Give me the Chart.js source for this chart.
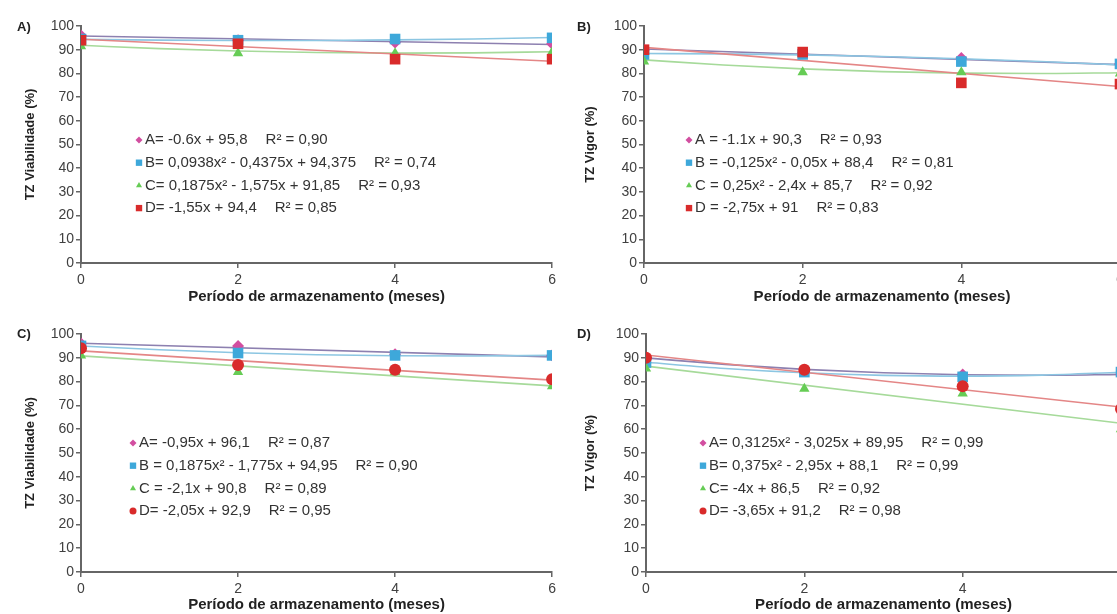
<!DOCTYPE html>
<html>
<head>
<meta charset="utf-8">
<script src="https://cdn.jsdelivr.net/npm/chart.js@4.4.1/dist/chart.umd.min.js"></script>
<style>
  html, body { margin: 0; padding: 0; background: #fff; overflow: hidden; width: 1117px; height: 614px; }
  canvas { position: absolute; }
</style>
</head>
<body>
<canvas id="panelA" width="560" height="307" style="left:0;top:0"></canvas>
<canvas id="panelB" width="580" height="307" style="left:560px;top:0"></canvas>
<canvas id="panelC" width="560" height="307" style="left:0;top:307px"></canvas>
<canvas id="panelD" width="580" height="307" style="left:560px;top:307px"></canvas>
<script>
// meses de armazenamento
const meses = [0, 2, 4, 6];
const xLinear = [0, 6];
const xQuad = [0, 1, 2, 3, 4, 5, 6];

// A) TZ Viabilidade - primeiro lote
const a_serieA = [96, 94, 93, 92.5];
const a_serieB = [94.5, 94, 94.5, 95];
const a_serieC = [91.5, 88.5, 88.5, 89];
const a_serieD = [94, 92.5, 86, 86];
const a_trendA = [95.8, 92.2];
const a_trendB = [94.38, 94.03, 93.88, 93.91, 94.13, 94.53, 95.13];
const a_trendC = [91.85, 90.46, 89.45, 88.81, 88.55, 88.66, 89.15];
const a_trendD = [94.4, 85.1];
const a_eq = ["A= -0.6x + 95,8", "B= 0,0938x² - 0,4375x + 94,375", "C= 0,1875x² - 1,575x + 91,85", "D= -1,55x + 94,4"];
const a_r2 = ["R² = 0,90", "R² = 0,74", "R² = 0,93", "R² = 0,85"];

// B) TZ Vigor - primeiro lote
const b_serieA = [90, 88.5, 86.5, 84];
const b_serieB = [88, 88, 85, 84];
const b_serieC = [85, 80.5, 80.5, 80];
const b_serieD = [90, 89, 76, 75.5];
const b_trendA = [90.3, 83.7];
const b_trendB = [88.4, 88.23, 87.8, 87.13, 86.2, 85.03, 83.6];
const b_trendC = [85.7, 83.55, 81.9, 80.75, 80.1, 79.95, 80.3];
const b_trendD = [91, 74.5];
const b_eq = ["A = -1.1x + 90,3", "B = -0,125x² - 0,05x + 88,4", "C = 0,25x² - 2,4x + 85,7", "D = -2,75x + 91"];
const b_r2 = ["R² = 0,93", "R² = 0,81", "R² = 0,92", "R² = 0,83"];

// C) TZ Viabilidade - segundo lote
const c_serieA = [96, 95, 91.5, 91];
const c_serieB = [95, 92, 91, 91];
const c_serieC = [91, 84, 84, 78];
const c_serieD = [94, 87, 85, 81];
const c_trendA = [96.1, 90.4];
const c_trendB = [94.95, 93.36, 92.15, 91.31, 90.85, 90.76, 91.05];
const c_trendC = [90.8, 78.2];
const c_trendD = [92.9, 80.6];
const c_eq = ["A= -0,95x + 96,1", "B = 0,1875x² - 1,775x + 94,95", "C = -2,1x + 90,8", "D= -2,05x + 92,9"];
const c_r2 = ["R² = 0,87", "R² = 0,90", "R² = 0,89", "R² = 0,95"];

// D) TZ Vigor - segundo lote
const d_serieA = [90, 84.5, 83, 83];
const d_serieB = [88, 84, 82, 84];
const d_serieC = [85.5, 77, 75, 60];
const d_serieD = [90, 85, 78, 68.5];
const d_trendA = [89.95, 87.24, 85.15, 83.69, 82.85, 82.64, 83.05];
const d_trendB = [88.1, 85.53, 83.7, 82.63, 82.3, 82.73, 83.9];
const d_trendC = [86.5, 62.5];
const d_trendD = [91.2, 69.3];
const d_eq = ["A= 0,3125x² - 3,025x + 89,95", "B= 0,375x² - 2,95x + 88,1", "C= -4x + 86,5", "D= -3,65x + 91,2"];
const d_r2 = ["R² = 0,99", "R² = 0,99", "R² = 0,92", "R² = 0,98"];

const FONT = '"Liberation Sans", Arial, sans-serif';
const markerColors = ["#d24ea0", "#3ea8da", "#66cc55", "#d92b2b"];
const trendColors = ["#8d80b0", "#8cc6e2", "#a6da9a", "#e48686"];

function pts(xs, ys) {
  return xs.map((x, i) => ({ x: x, y: ys[i] }));
}

// legenda com as equações dentro da área do gráfico
const equationLegend = {
  id: "equationLegend",
  afterDatasetsDraw(chart, args, opts) {
    const ctx = chart.ctx;
    ctx.save();
    ctx.textBaseline = "middle";
    ctx.fillStyle = "#222";
    ctx.font = "bold 13px " + FONT;
    ctx.fillText(opts.tag, opts.tagX, opts.tagY);
    ctx.font = "15px " + FONT;
    opts.equations.forEach((eq, i) => {
      const y = opts.y + i * opts.step;
      const shape = opts.shapes[i];
      ctx.fillStyle = markerColors[i];
      Chart.helpers.drawPoint(ctx, { pointStyle: shape, radius: shape === "rect" ? 4.5 : 3.5, borderWidth: 0, rotation: 0 }, opts.x, y);
      ctx.fillStyle = "#333";
      ctx.fillText(eq, opts.x + 6, y);
      const w = ctx.measureText(eq).width;
      ctx.fillText(opts.r2[i], opts.x + 6 + w + 18, y);
    });
    ctx.restore();
  }
};

function buildPanel(id, p) {
  const datasets = [];
  for (let i = 0; i < 4; i++) {
    datasets.push({
      type: "line",
      data: pts(p.trendX[i], p.trends[i]),
      borderColor: trendColors[i],
      borderWidth: 1.6,
      pointRadius: 0,
      cubicInterpolationMode: "monotone",
      fill: false,
      order: 20 - i
    });
  }
  for (let i = 0; i < 4; i++) {
    datasets.push({
      type: "scatter",
      data: pts(meses, p.series[i]),
      backgroundColor: markerColors[i],
      borderWidth: 0,
      pointStyle: p.shapes[i],
      pointRadius: p.shapes[i] === "rect" ? 7.5 : 6,
      order: 10 - i
    });
  }

  new Chart(document.getElementById(id), {
    type: "scatter",
    data: { datasets: datasets },
    plugins: [equationLegend],
    options: {
      responsive: false,
      animation: false,
      events: [],
      layout: { padding: { top: p.top, right: p.right, left: 0, bottom: 0 } },
      plugins: {
        legend: { display: false },
        tooltip: { enabled: false },
        equationLegend: {
          tag: p.tag, tagX: 17, tagY: 27,
          equations: p.eq, r2: p.r2, shapes: p.shapes,
          x: p.legX, y: p.legY, step: 22.7
        }
      },
      scales: {
        x: {
          type: "linear", min: 0, max: 6,
          ticks: { stepSize: 2, color: "#404040", padding: 4, font: { family: FONT, size: 14 } },
          grid: { drawOnChartArea: false, drawTicks: true, tickLength: 5, color: "#666", lineWidth: 1.5 },
          border: { color: "#666", width: 2 },
          title: { display: true, text: "Período de armazenamento (meses)", color: "#222", padding: { top: 0, bottom: p.titlePadX }, font: { family: FONT, size: 15, weight: "bold" } },
          afterFit: function (s) { s.height = p.xHeight; }
        },
        y: {
          min: 0, max: 100,
          ticks: { stepSize: 10, color: "#404040", padding: 2, font: { family: FONT, size: 14 } },
          grid: { drawOnChartArea: false, drawTicks: true, tickLength: 5, color: "#666", lineWidth: 1.5 },
          border: { color: "#666", width: 2 },
          title: { display: true, text: p.yTitle, color: "#222", padding: { top: 23, bottom: 0 }, font: { family: FONT, size: 13, weight: "bold" } },
          afterFit: function (s) { s.width = p.yWidth; }
        }
      }
    }
  });
}

const shapesTop = ["rectRot", "rect", "triangle", "rect"];
const shapesBottom = ["rectRot", "rect", "triangle", "circle"];

buildPanel("panelA", {
  tag: "A)", yTitle: "TZ Viabilidade (%)",
  series: [a_serieA, a_serieB, a_serieC, a_serieD],
  trends: [a_trendA, a_trendB, a_trendC, a_trendD],
  trendX: [xLinear, xQuad, xQuad, xLinear],
  eq: a_eq, r2: a_r2, shapes: shapesTop,
  top: 26, right: 2, yWidth: 81, xHeight: 44, titlePadX: 1,
  legX: 139, legY: 140
});
buildPanel("panelB", {
  tag: "B)", yTitle: "TZ Vigor (%)",
  series: [b_serieA, b_serieB, b_serieC, b_serieD],
  trends: [b_trendA, b_trendB, b_trendC, b_trendD],
  trendX: [xLinear, xQuad, xQuad, xLinear],
  eq: b_eq, r2: b_r2, shapes: shapesTop,
  top: 26, right: 20, yWidth: 84, xHeight: 44, titlePadX: 1,
  legX: 129, legY: 140
});
buildPanel("panelC", {
  tag: "C)", yTitle: "TZ Viabilidade (%)",
  series: [c_serieA, c_serieB, c_serieC, c_serieD],
  trends: [c_trendA, c_trendB, c_trendC, c_trendD],
  trendX: [xLinear, xQuad, xLinear, xLinear],
  eq: c_eq, r2: c_r2, shapes: shapesBottom,
  top: 27, right: 2, yWidth: 81, xHeight: 42, titlePadX: 0,
  legX: 133, legY: 136
});
buildPanel("panelD", {
  tag: "D)", yTitle: "TZ Vigor (%)",
  series: [d_serieA, d_serieB, d_serieC, d_serieD],
  trends: [d_trendA, d_trendB, d_trendC, d_trendD],
  trendX: [xQuad, xQuad, xLinear, xLinear],
  eq: d_eq, r2: d_r2, shapes: shapesBottom,
  top: 27, right: 19, yWidth: 86, xHeight: 42, titlePadX: 0,
  legX: 143, legY: 136
});
</script>
</body>
</html>
